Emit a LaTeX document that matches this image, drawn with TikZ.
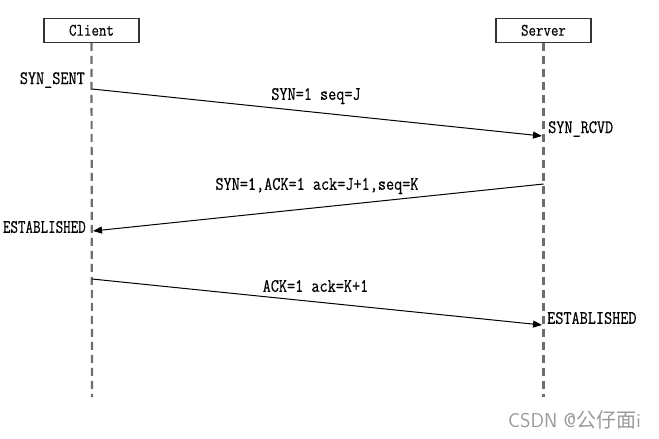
\documentclass[tikz,border=0pt]{standalone}
\usepackage{fontspec}
\usetikzlibrary{arrows.meta}
\newfontfamily\labfont[FakeStretch=0.83,FakeBold=0.4]{Latin Modern Mono}
\newfontfamily\labfontn[FakeStretch=0.77,FakeBold=0.4]{Latin Modern Mono}
\newfontfamily\cjkfont{Noto Sans CJK SC}
\definecolor{lifegray}{HTML}{6E6E6E}
\definecolor{boxgray}{HTML}{333333}
\definecolor{wmgray}{HTML}{9A9A9A}
\begin{document}
\begin{tikzpicture}[x=1pt,y=-1pt,
  actor/.style={draw=boxgray,line width=1.3pt,minimum width=95pt,minimum height=24pt,inner sep=0pt,font=\labfont\fontsize{17.5}{18}\selectfont},
  lifeline/.style={draw=lifegray,line width=2.2pt,dash pattern=on 8pt off 5pt},
  msg/.style={draw=black,line width=1pt,-{Triangle[length=9pt,width=7pt]}},
  lab/.style={inner sep=0pt,font=\labfont\fontsize{19}{20}\selectfont},
  labn/.style={inner sep=0pt,font=\labfontn\fontsize{19}{20}\selectfont},
  wm/.style={inner sep=0pt,text=wmgray,font=\fontsize{20}{22}\selectfont\sffamily}
]
\useasboundingbox (0,0) rectangle (659,439);
\node[actor] (client) at (91.5,30.3) {Client};
\node[actor] (server) at (543.5,30.3) {Server};
\coordinate (cend) at (92,397);
\coordinate (send) at (543.5,397);
\draw[lifeline] (client.south) -- (cend);
\draw[lifeline] (server.south) -- (send);
% message endpoints
\coordinate (m1a) at (92,89);
\coordinate (m1b) at (542,136);
\coordinate (m2a) at (543.5,184);
\coordinate (m2b) at (93,231);
\coordinate (m3a) at (92,279);
\coordinate (m3b) at (542,325);
\draw[msg] (m1a) -- (m1b);
\draw[msg] (m2a) -- (m2b);
\draw[msg] (m3a) -- (m3b);
% labels
\node[lab,anchor=east] (s1) at (85,80) {SYN\_SENT};
\node[lab,anchor=west] (s2) at (548,129) {SYN\_RCVD};
\node[labn,anchor=east] (s3) at (86,227) {ESTABLISHED};
\node[lab,anchor=west] (s4) at (547,318) {ESTABLISHED};
\node[lab] (l1) at (316,96) {SYN=1 seq=J};
\node[lab] (l2) at (317,186) {SYN=1,ACK=1 ack=J+1,seq=K};
\node[lab] (l3) at (315.5,286) {ACK=1 ack=K+1};
\node[wm,anchor=west] (wmk) at (508,420) {CSDN @{\cjkfont 公仔面}i};
\end{tikzpicture}
\end{document}
